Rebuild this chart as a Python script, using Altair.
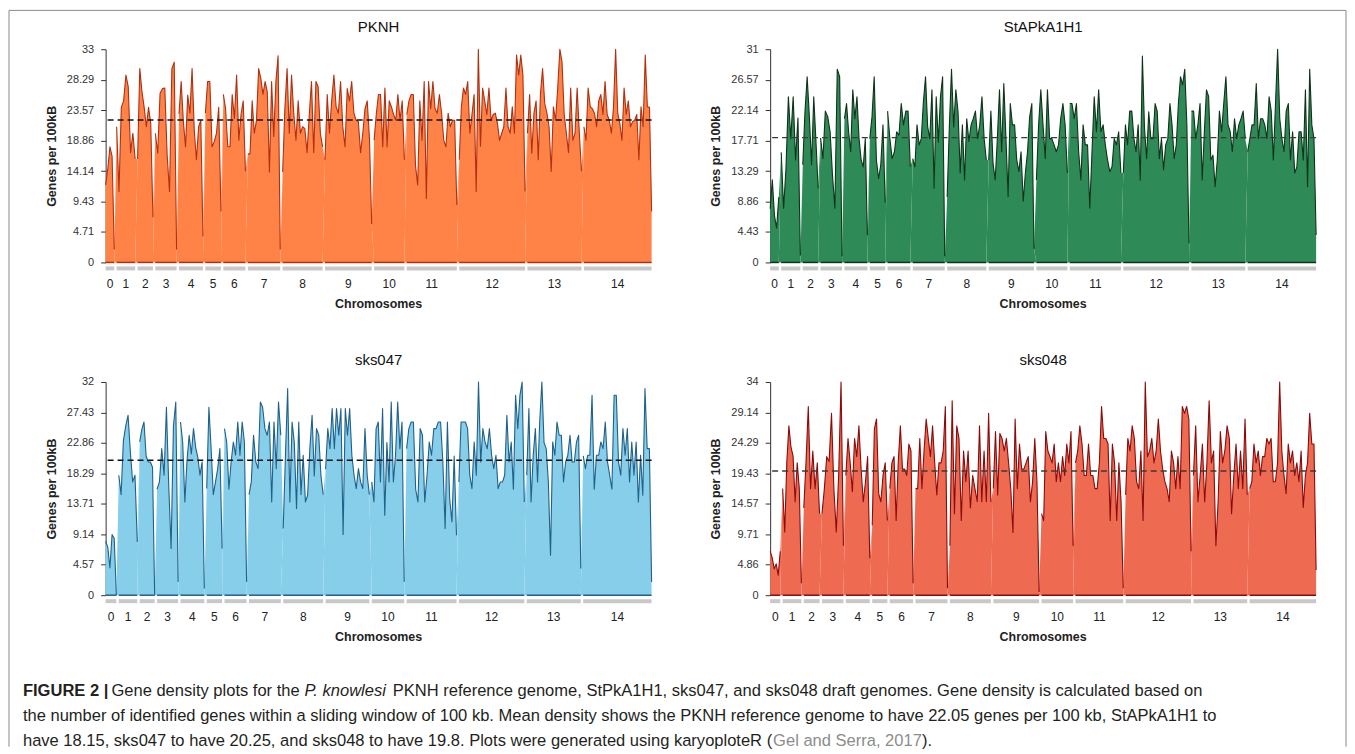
import altair as alt
import pandas as pd

FONT = "Liberation Sans"
CHROMS = [str(i) for i in range(15)]
GAP = 0.115  # Mb between chromosomes

# ---------------- data (genes per 100 kb windows) ----------------
pknh_len = [0.41, 0.88, 0.73, 1.01, 1.14, 0.74, 1.05, 1.54, 1.90, 2.22, 1.44, 2.38, 3.13, 2.57, 3.22]
pknh = [
    [12.0, 14.5, 17.9, 16.4, 2.0],
    [21.0, 11.0, 24.0, 25.0, 29.0, 27.2, 17.0, 20.0, 16.0],
    [16.0, 30.0, 26.4, 24.0, 21.0, 24.0, 21.5, 7.0],
    [20.0, 16.9, 26.2, 26.9, 27.0, 16.6, 11.0, 30.0, 31.0, 2.0],
    [23.0, 28.0, 21.8, 17.9, 25.9, 23.1, 30.0, 20.5, 15.9, 21.0, 22.0, 4.0],
    [23.1, 28.0, 28.0, 17.9, 18.7, 20.0, 24.0, 7.9],
    [26.0, 23.8, 17.9, 17.9, 26.0, 22.3, 29.0, 18.9, 22.9, 25.0, 14.1],
    [16.8, 16.8, 25.0, 20.0, 22.0, 30.0, 28.5, 26.0, 28.0, 26.4, 14.0, 28.0, 19.5, 28.0, 32.0, 2.0],
    [14.0, 23.8, 30.0, 20.0, 29.0, 23.1, 18.9, 25.0, 20.0, 21.0, 20.7, 17.0, 22.9, 28.0, 17.0, 28.0, 27.2, 20.0, 17.9],
    [15.9, 26.0, 20.0, 25.0, 29.0, 24.1, 23.1, 28.0, 21.0, 17.9, 26.9, 25.0, 28.0, 23.1, 22.0, 21.8, 17.0, 20.0, 23.8, 25.0, 19.2, 5.9],
    [18.9, 22.9, 26.0, 26.0, 17.9, 27.0, 17.9, 25.0, 24.1, 22.9, 22.0, 26.0, 22.0, 25.0, 15.9],
    [22.9, 25.0, 26.0, 26.0, 15.0, 12.0, 25.0, 18.9, 28.0, 9.9, 28.0, 23.8, 28.0, 23.8, 23.1, 26.0, 23.1, 18.9, 17.9, 23.1, 21.0, 22.0, 22.0, 8.9],
    [15.9, 24.1, 27.0, 26.0, 28.0, 20.0, 22.9, 26.0, 11.0, 33.0, 18.0, 27.0, 25.0, 22.9, 27.0, 22.0, 22.9, 23.1, 21.5, 18.9, 20.0, 21.0, 27.0, 21.0, 20.0, 24.1, 20.0, 32.1, 29.0, 32.1, 29.0, 11.0],
    [20.0, 26.0, 16.9, 23.1, 25.0, 15.9, 26.0, 30.0, 24.6, 23.1, 21.0, 14.1, 24.1, 22.0, 27.0, 33.0, 31.0, 22.9, 20.0, 17.0, 27.0, 18.9, 20.0, 27.0, 20.0, 14.1],
    [21.0, 18.9, 27.0, 24.1, 23.8, 23.1, 21.0, 25.0, 26.0, 22.9, 28.0, 22.9, 22.0, 20.0, 24.1, 33.0, 23.1, 21.5, 18.9, 27.0, 22.9, 25.0, 21.0, 21.8, 22.0, 22.9, 15.9, 24.1, 21.0, 32.1, 24.1, 24.0, 7.9],
]

st_len = [0.41, 0.91, 0.73, 1.02, 1.09, 0.73, 1.08, 1.52, 1.86, 2.15, 1.47, 2.43, 3.12, 2.56, 3.25]
st = [
    [7.8, 12.0, 6.8, 5.0, 9.5],
    [16.0, 7.9, 13.7, 24.1, 18.0, 24.1, 14.9, 21.0, 1.0],
    [14.2, 21.9, 27.0, 21.2, 14.2, 24.1, 17.6, 10.8],
    [18.1, 15.1, 22.0, 21.2, 19.0, 12.7, 7.9, 28.1, 27.0, 0.9],
    [20.9, 23.1, 19.0, 16.1, 25.1, 20.9, 24.1, 18.0, 14.9, 13.9, 18.0, 4.0],
    [18.0, 21.2, 27.0, 14.9, 12.2, 14.2, 20.0, 8.7],
    [22.0, 18.0, 15.1, 16.1, 19.0, 18.5, 23.1, 20.0, 22.0, 22.0, 13.9],
    [15.1, 13.9, 20.0, 17.1, 18.0, 23.4, 27.0, 19.7, 18.0, 25.1, 10.8, 24.1, 17.5, 24.1, 27.0, 0.9],
    [9.5, 19.7, 28.1, 19.7, 25.1, 21.9, 13.0, 20.0, 12.0, 20.9, 17.6, 20.0, 20.9, 22.0, 18.0, 20.0, 24.1, 18.0, 14.9],
    [14.9, 22.0, 14.4, 12.0, 18.0, 25.1, 16.1, 26.0, 18.0, 9.6, 23.1, 20.0, 20.0, 14.9, 13.2, 16.1, 8.9, 13.0, 16.1, 21.2, 23.1, 2.0],
    [12.0, 20.0, 25.1, 20.0, 15.1, 25.1, 18.0, 18.0, 17.1, 16.1, 17.1, 20.9, 23.1, 20.0, 13.0],
    [23.1, 23.1, 20.9, 23.1, 16.1, 12.0, 20.0, 17.1, 17.1, 7.9, 16.1, 24.1, 19.0, 25.1, 19.0, 20.0, 17.1, 14.9, 13.2, 13.9, 18.0, 17.1, 19.0, 13.0],
    [13.0, 20.0, 17.1, 22.0, 22.0, 18.0, 16.1, 20.0, 12.0, 30.0, 19.5, 15.1, 21.9, 18.0, 18.0, 23.1, 22.0, 15.1, 18.0, 13.5, 17.1, 18.0, 23.1, 20.0, 15.1, 17.1, 23.1, 27.0, 25.8, 28.1, 20.0, 2.8],
    [22.0, 22.0, 18.0, 20.0, 23.1, 12.0, 19.0, 25.1, 24.1, 14.9, 15.6, 11.0, 14.9, 22.0, 19.0, 23.1, 27.0, 20.0, 19.0, 16.1, 20.9, 18.0, 20.0, 20.9, 22.0, 18.0],
    [16.1, 18.0, 20.0, 20.0, 26.0, 18.0, 20.9, 20.9, 20.0, 18.0, 24.1, 22.0, 14.9, 23.1, 31.0, 20.9, 18.0, 16.1, 22.0, 23.1, 14.9, 19.0, 13.0, 13.9, 19.0, 19.0, 14.9, 25.1, 11.0, 28.1, 20.0, 18.0, 4.0],
]

s47_len = [0.51, 0.88, 0.71, 1.00, 1.13, 0.73, 1.05, 1.51, 1.90, 2.08, 1.54, 2.37, 3.11, 2.57, 3.25]
s47 = [
    [8.1, 7.2, 4.1, 9.1, 8.5, 0.0],
    [18.0, 15.1, 23.2, 25.4, 27.0, 21.5, 17.0, 18.0, 8.0],
    [23.0, 24.9, 26.0, 20.9, 20.0, 20.0, 19.2, 0.0],
    [15.9, 17.0, 22.0, 18.0, 28.2, 16.4, 7.0, 25.4, 29.0, 2.0],
    [26.0, 22.9, 14.0, 20.2, 24.0, 21.2, 25.0, 22.2, 20.7, 18.0, 20.0, 1.0],
    [16.0, 28.2, 22.0, 15.1, 17.0, 19.0, 22.0, 7.0],
    [25.0, 22.9, 15.9, 20.0, 23.0, 21.0, 26.0, 21.0, 26.0, 23.0, 2.0],
    [15.1, 17.0, 24.0, 20.0, 19.0, 29.0, 28.2, 25.0, 24.0, 26.0, 14.0, 26.0, 19.0, 29.0, 24.0],
    [10.0, 20.9, 31.0, 14.0, 26.0, 22.9, 13.0, 26.0, 15.1, 21.0, 14.0, 15.0, 22.0, 27.0, 17.9, 25.0, 24.0, 17.9, 15.1],
    [18.9, 25.0, 22.0, 28.0, 22.0, 28.0, 24.0, 28.0, 9.1, 28.0, 24.0, 28.0, 21.0, 18.0, 16.0, 19.0, 17.0, 16.0, 25.0, 18.0, 15.1],
    [17.0, 14.0, 25.0, 26.0, 17.0, 28.0, 12.0, 22.9, 17.0, 29.0, 17.0, 21.0, 29.0, 22.0, 26.0, 2.0],
    [22.0, 25.0, 26.0, 26.0, 15.9, 14.0, 25.0, 24.0, 14.0, 17.9, 23.0, 21.0, 25.0, 25.0, 26.0, 26.0, 20.0, 10.0, 26.0, 14.5, 11.0, 20.9, 9.0],
    [17.0, 26.0, 26.0, 26.0, 25.0, 18.0, 16.0, 23.0, 18.0, 32.0, 20.0, 25.0, 23.0, 22.0, 25.0, 21.0, 19.0, 21.0, 16.0, 17.0, 17.0, 18.0, 27.0, 20.0, 23.0, 15.9, 30.0, 25.0, 30.0, 32.0, 14.0],
    [18.0, 28.0, 14.0, 21.0, 25.0, 17.0, 26.0, 32.0, 22.9, 22.0, 17.0, 6.0, 23.0, 21.0, 26.0, 24.0, 24.0, 17.0, 20.0, 21.0, 24.0, 20.0, 20.0, 23.0, 24.0, 4.0],
    [20.9, 19.0, 21.0, 21.0, 30.0, 15.9, 21.0, 21.0, 23.0, 22.0, 26.0, 20.0, 18.0, 15.9, 30.0, 30.0, 20.0, 18.0, 25.0, 21.0, 25.0, 17.0, 23.0, 18.0, 23.0, 14.0, 21.0, 15.0, 31.0, 22.0, 22.0, 2.0],
]

s48_len = [0.48, 0.89, 0.75, 1.02, 1.14, 0.72, 1.11, 1.52, 1.95, 2.18, 1.50, 2.27, 3.11, 2.56, 3.16]
s48 = [
    [7.0, 6.0, 4.2, 5.0, 3.2, 7.0],
    [17.0, 10.1, 21.3, 27.0, 23.6, 22.2, 14.9, 21.1, 17.0, 1.9],
    [13.9, 21.3, 30.1, 17.0, 23.0, 17.0, 21.1, 13.0],
    [13.0, 17.0, 22.1, 21.3, 29.0, 17.0, 10.1, 19.1, 34.0, 7.9],
    [19.1, 25.0, 21.1, 16.5, 25.0, 22.1, 27.0, 20.2, 14.9, 18.0, 22.1, 5.9],
    [11.1, 26.5, 28.1, 16.2, 14.9, 19.1, 21.1, 11.9],
    [17.0, 21.1, 22.1, 11.9, 21.3, 27.0, 20.1, 20.1, 19.1, 24.1, 23.0, 1.9],
    [17.0, 17.0, 25.0, 17.0, 23.0, 28.1, 25.0, 22.1, 27.0, 21.1, 16.0, 21.1, 21.1, 23.0, 30.1, 1.1],
    [7.9, 31.0, 13.0, 27.0, 25.0, 11.9, 23.0, 18.1, 23.0, 13.9, 19.1, 17.0, 14.9, 27.0, 14.9, 23.0, 14.9, 29.0, 14.9],
    [17.0, 26.1, 16.0, 25.8, 25.0, 23.0, 25.0, 21.1, 17.0, 10.0, 28.1, 17.0, 24.1, 20.1, 20.1, 21.1, 22.1, 14.9, 18.1, 25.0, 18.1, 0.5],
    [13.0, 11.9, 26.1, 23.0, 22.1, 21.1, 24.1, 18.1, 21.1, 18.1, 22.1, 19.1, 24.1, 21.1, 26.1, 7.9],
    [21.1, 23.0, 27.0, 24.1, 19.1, 19.1, 24.1, 19.1, 19.1, 17.0, 17.0, 21.1, 30.1, 25.0, 25.0, 24.1, 11.9, 24.1, 21.1, 11.9, 21.1, 14.9, 1.1],
    [16.0, 25.0, 23.0, 27.0, 25.0, 18.1, 17.0, 23.0, 11.9, 34.0, 22.1, 23.0, 25.0, 21.1, 23.0, 28.1, 23.0, 20.1, 18.1, 17.0, 14.9, 23.0, 21.1, 17.0, 22.1, 17.0, 30.1, 29.0, 30.1, 28.1, 7.0],
    [19.1, 27.0, 14.9, 19.1, 24.1, 14.9, 21.1, 31.0, 21.1, 23.0, 7.9, 14.9, 26.1, 21.1, 23.0, 27.0, 25.0, 13.0, 19.1, 24.1, 17.0, 23.0, 17.0, 28.1, 16.0],
    [17.0, 18.1, 24.1, 21.1, 23.0, 19.1, 22.1, 22.1, 25.0, 24.1, 25.0, 18.1, 18.1, 21.1, 34.0, 23.0, 19.1, 16.2, 24.1, 21.1, 23.0, 19.1, 21.1, 18.1, 23.0, 14.0, 19.1, 21.1, 29.0, 24.1, 24.1, 4.0],
]

PANEL_NAMES = ["PKNH", "StAPkA1H1", "sks047", "sks048"]
MEANS = [22.05, 18.15, 20.25, 19.8]
YMAX = [33, 31, 32, 34]
LENGTHS = [pknh_len, st_len, s47_len, s48_len]
DENS = [pknh, st, s47, s48]

FILLS = ["#FF8247", "#2E8B57", "#87CEEB", "#EE6A50"]
STROKES = ["#B0300F", "#0E3319", "#1F6189", "#8B0A0A"]
DASH = ["#111111", "#3a3a3a", "#111111", "#3a3a3a"]

caption_l1 = ["FIGURE 2 |", "Gene density plots for the", "P. knowlesi",
              "PKNH reference genome, StPkA1H1, sks047, and sks048 draft genomes. Gene density is calculated based on"]
caption_l2 = "the number of identified genes within a sliding window of 100 kb. Mean density shows the PKNH reference genome to have 22.05 genes per 100 kb, StAPkA1H1 to"
caption_l3 = ["have 18.15, sks047 to have 20.25, and sks048 to have 19.8. Plots were generated using karyoploteR (",
              "Gel and Serra, 2017", ")."]

# ---------------- layout constants ----------------
W, H = 548, 214
COL_SP, ROW_SP = 119, 120
CAP_Y = 2 * (H + ROW_SP)            # caption cell origin, relative to first panel
FL, FT, FR, FB = -97, -39 - CAP_Y, 1245, 700 - CAP_Y   # frame, relative to caption cell

# Arial/Helvetica advance widths (per 1000 em) for placing inline caption fragments
_REG = {}
for ch, w in zip("abcdefghijklmnopqrstuvwxyz",
                 [556, 556, 500, 556, 556, 278, 556, 556, 222, 222, 500, 222, 833, 556, 556, 556, 556, 333, 500, 278, 556, 500, 722, 500, 500, 500]):
    _REG[ch] = w
for ch, w in zip("ABCDEFGHIJKLMNOPQRSTUVWXYZ",
                 [667, 667, 722, 722, 667, 611, 778, 722, 278, 500, 667, 556, 833, 722, 778, 667, 778, 722, 667, 611, 722, 667, 944, 667, 667, 611]):
    _REG[ch] = w
for ch in "0123456789":
    _REG[ch] = 556
_REG.update({" ": 278, ",": 278, ".": 278, "(": 333, ")": 333, "|": 260, "-": 333})
_BOLD = {"F": 611, "I": 278, "G": 778, "U": 722, "R": 722, "E": 667, " ": 278, "2": 556, "|": 280}


def tw(s, table, size):
    return sum(table.get(c, 556) for c in s) * size / 1000.0


def build(lengths, dens):
    rows, chroms = [], []
    start = 0.0
    for i, (L, vals) in enumerate(zip(lengths, dens)):
        end = start + L
        n = len(vals)
        for j, v in enumerate(vals):
            rows.append({"chrom": CHROMS[i], "pos": start + L * j / (n - 1), "density": v})
        chroms.append({"chrom": CHROMS[i], "start": start, "end": end, "mid": (start + end) / 2})
        start = end + GAP
    return pd.DataFrame(rows), pd.DataFrame(chroms), start - GAP


def panel(k):
    df, cdf, total = build(LENGTHS[k], DENS[k])
    ymax = YMAX[k]
    ticks = [round(ymax * t / 7, 4) for t in range(8)]
    xs = alt.Scale(domain=[0, total], nice=False, zero=False)
    ys = alt.Scale(domain=[0, ymax], nice=False)
    yaxis = alt.Axis(title="Genes per 100kB", values=ticks, tickCount=len(ticks) + 2,
                     format=".2~f", grid=False,
                     tickSize=5, tickColor="#333", domainColor="#333", labelColor="#333",
                     labelFont=FONT, labelFontSize=11, labelPadding=7, labelOverlap=False,
                     labelBound=False, titleFont=FONT, titleFontSize=12.5, titleFontWeight="bold",
                     titleColor="#222", titlePadding=8)
    x = alt.X("pos:Q", scale=xs, axis=None)
    y = alt.Y("density:Q", scale=ys, axis=yaxis)
    base = alt.Chart(df)
    area = base.mark_area(color=FILLS[k], opacity=1).encode(x=x, y=y, detail="chrom:N")
    line = base.mark_line(color=STROKES[k], strokeWidth=1.1, strokeJoin="round").encode(
        x=x, y=y, detail="chrom:N")
    cb = alt.Chart(cdf)
    baseline = cb.mark_rule(color=STROKES[k], strokeWidth=1.5).encode(
        x=alt.X("start:Q", scale=xs, axis=None), x2="end:Q", y=alt.datum(0))
    bars = cb.mark_rect(color="#c8c8c8").encode(
        x=alt.X("start:Q", scale=xs, axis=None), x2="end:Q", y=alt.value(H + 4), y2=alt.value(H + 8))
    labels = cb.mark_text(font=FONT, fontSize=12, color="#222", baseline="middle").encode(
        x=alt.X("mid:Q", scale=xs, axis=None), y=alt.value(H + 22), text="chrom:N")
    one = pd.DataFrame({"k": [0]})
    mean = alt.Chart(one).mark_rule(color=DASH[k], strokeDash=[6, 4], strokeWidth=1.4).encode(
        y=alt.datum(MEANS[k]))
    xtitle = alt.Chart(one).mark_text(font=FONT, fontSize=12.5, fontWeight="bold", color="#222",
                                      baseline="middle").encode(
        x=alt.value(W / 2), y=alt.value(H + 42), text=alt.value("Chromosomes"))
    layers = [area, line, baseline, mean, bars, labels, xtitle]
    return alt.layer(*layers).properties(
        width=W, height=H,
        title=alt.TitleParams(text=PANEL_NAMES[k], font=FONT, fontSize=15, fontWeight="normal",
                              color="#111", offset=8, anchor="middle", frame="group"))


def caption():
    size = 16.6
    x0 = -83
    ys = [-24, 1, 26]
    one = pd.DataFrame({"k": [0]})
    sp = tw(" ", _REG, size)
    col = "#231f20"
    xa = x0
    xb = xa + tw(caption_l1[0], _BOLD, size) + 3
    xc = xb + tw(caption_l1[1], _REG, size) + sp
    xd = xc + tw(caption_l1[2], _REG, size) + sp
    specs = [
        (caption_l1[0], xa, ys[0], "bold", "normal", col),
        (caption_l1[1], xb, ys[0], "normal", "normal", col),
        (caption_l1[2], xc, ys[0], "normal", "italic", col),
        (caption_l1[3], xd, ys[0], "normal", "normal", col),
        (caption_l2, x0, ys[1], "normal", "normal", col),
    ]
    xe = x0
    xf = xe + tw(caption_l3[0], _REG, size)
    xg = xf + tw(caption_l3[1], _REG, size)
    specs += [
        (caption_l3[0], xe, ys[2], "normal", "normal", col),
        (caption_l3[1], xf, ys[2], "normal", "normal", "#8c8c8c"),
        (caption_l3[2], xg, ys[2], "normal", "normal", col),
    ]
    parts = []
    for text, xx, yy, fw, fs, c in specs:
        parts.append(alt.Chart(one).mark_text(font=FONT, fontSize=size, fontWeight=fw, fontStyle=fs,
                                              color=c, align="left", baseline="middle").encode(
            x=alt.value(xx), y=alt.value(yy), text=alt.value(text)))
    fc = "#8a8a8a"
    parts += [
        alt.Chart(one).mark_rule(color=fc, strokeWidth=1).encode(
            x=alt.value(FL), x2=alt.value(FR), y=alt.value(FT)),
        alt.Chart(one).mark_rule(color=fc, strokeWidth=1).encode(
            x=alt.value(FL), y=alt.value(FT), y2=alt.value(FB)),
        alt.Chart(one).mark_rule(color=fc, strokeWidth=1).encode(
            x=alt.value(FR), y=alt.value(FT), y2=alt.value(FB)),
    ]
    return alt.layer(*parts).properties(width=W, height=1)


chart = alt.concat(
    panel(0), panel(1), panel(2), panel(3), caption(),
    columns=2, bounds="flush", spacing={"row": ROW_SP, "column": COL_SP},
).properties(padding=0, background="white").configure_view(stroke=None).configure_axis(
    labelOverlap=False)

chart.save("out.html", embed_options={"renderer": "svg", "actions": False})
